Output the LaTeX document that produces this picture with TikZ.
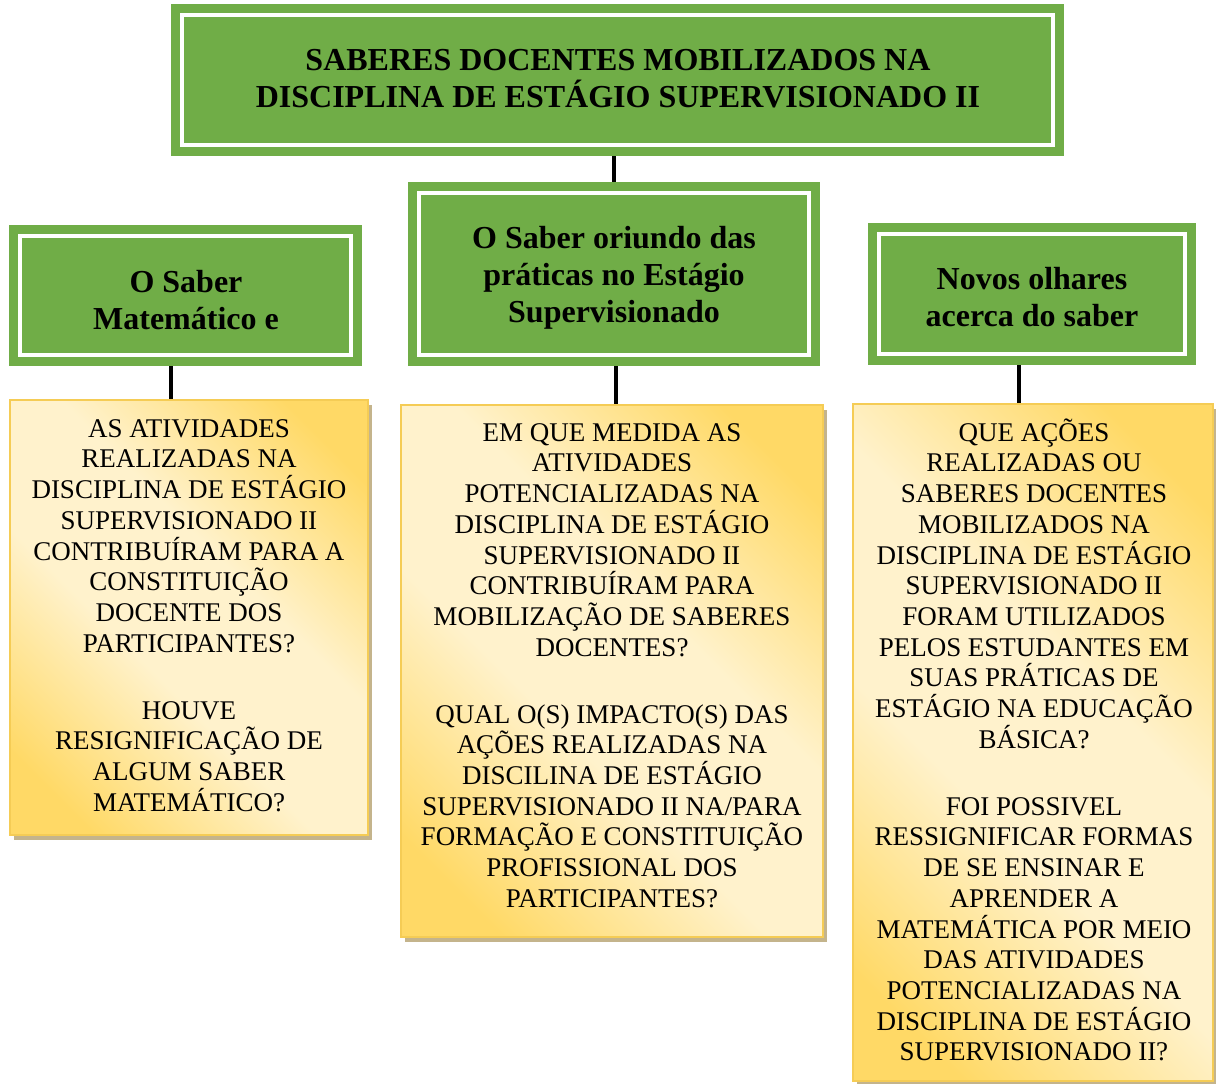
\documentclass[tikz,border=0pt]{standalone}
\usepackage{fontspec}
\setmainfont{Liberation Serif}
\definecolor{grn}{HTML}{70AD47}
\definecolor{gold}{HTML}{FFD966}
\definecolor{cream}{HTML}{FFF2CC}
\definecolor{goldline}{HTML}{F5CC55}
\definecolor{shad}{HTML}{C4B48C}
\pgfdeclareverticalshading{ygrad}{100bp}{color(0bp)=(gold); color(22bp)=(gold); color(42bp)=(cream); color(58bp)=(cream); color(78bp)=(gold); color(100bp)=(gold)}
\begin{document}
\begin{tikzpicture}[x=1pt,y=1pt,
 gbox/.style={rectangle, fill=grn, draw=none, inner sep=0pt},
 ybox/.style={rectangle, inner sep=0pt, draw=goldline, line width=1.2pt,
   shading=ygrad, shading angle=-45},
 shadowbox/.style={fill=shad, draw=none},
 inline/.style={draw=white, line width=4pt},
 link/.style={line width=3.5pt, draw=black},
 ttext/.style={font=\fontsize{32}{37}\selectfont\bfseries, align=center, inner sep=0pt},
 gtext/.style={font=\fontsize{32}{37}\selectfont\bfseries, align=center, inner sep=0pt},
 ytext/.style={font=\fontsize{27}{30.7}\selectfont, align=center, inner sep=0pt, anchor=north},
]
\useasboundingbox (0,-1084) rectangle (1216,0);
\fill[white] (0,-1084) rectangle (1216,0);

% green boxes
\node[gbox, minimum width=893pt, minimum height=152pt] (top) at (617.5,-80) {};
\node[gbox, minimum width=353pt, minimum height=141pt] (leftg) at (185.5,-295.5) {};
\node[gbox, minimum width=412pt, minimum height=184pt] (midg) at (614,-274) {};
\node[gbox, minimum width=328pt, minimum height=142pt] (rightg) at (1032,-294) {};
\foreach \b in {top,leftg,midg,rightg}{
  \draw[inline] ([shift={(11pt,-11pt)}]\b.north west) rectangle ([shift={(-11pt,11pt)}]\b.south east);
}

% green texts
\node[ttext] (ttl) at (618,-79) {SABERES DOCENTES MOBILIZADOS NA\\DISCIPLINA DE ESTÁGIO SUPERVISIONADO II};
\node[gtext] (lt) at (186,-300) {O Saber\\Matemático e};
\node[gtext] (mt) at (614,-278) {O Saber oriundo das\\práticas no Estágio\\Supervisionado};
\node[gtext] (rt) at (1032,-297.5) {Novos olhares\\acerca do saber};

% yellow shadows
\fill[shadowbox] (14,-405) rectangle (372,-840);
\fill[shadowbox] (405,-410) rectangle (827,-942);
\fill[shadowbox] (857,-409) rectangle (1217,-1086);

% yellow boxes
\node[ybox, minimum width=358pt, minimum height=435pt] (lefty) at (189,-617.5) {};
\node[ybox, minimum width=422pt, minimum height=532pt] (midy) at (612,-671) {};
\node[ybox, minimum width=360pt, minimum height=677pt] (righty) at (1033,-742.5) {};

% connectors
\draw[link] (midg.north) -- (midg.north |- top.south);
\draw[link] ([xshift=-14.5pt]leftg.south) -- ([xshift=-14.5pt]leftg.south |- lefty.north);
\draw[link] ([xshift=2pt]midg.south) -- ([xshift=2pt]midg.south |- midy.north);
\draw[link] ([xshift=-13pt]rightg.south) -- ([xshift=-13pt]rightg.south |- righty.north);

% yellow texts
\node[ytext] (lq) at (189,-412) {\rule{0pt}{25pt}AS ATIVIDADES\\REALIZADAS NA\\DISCIPLINA DE ESTÁGIO\\SUPERVISIONADO II\\CONTRIBUÍRAM PARA A\\CONSTITUIÇÃO\\DOCENTE DOS\\PARTICIPANTES?\\[36.3pt]HOUVE\\RESIGNIFICAÇÃO DE\\ALGUM SABER\\MATEMÁTICO?};
\node[ytext] (mq) at (612,-416) {\rule{0pt}{25pt}EM QUE MEDIDA AS\\ATIVIDADES\\POTENCIALIZADAS NA\\DISCIPLINA DE ESTÁGIO\\SUPERVISIONADO II\\CONTRIBUÍRAM PARA\\MOBILIZAÇÃO DE SABERES\\DOCENTES?\\[36.3pt]QUAL O(S) IMPACTO(S) DAS\\AÇÕES REALIZADAS NA\\DISCILINA DE ESTÁGIO\\SUPERVISIONADO II NA/PARA\\FORMAÇÃO E CONSTITUIÇÃO\\PROFISSIONAL DOS\\PARTICIPANTES?};
\node[ytext] (rq) at (1034,-416) {\rule{0pt}{25pt}QUE AÇÕES\\REALIZADAS OU\\SABERES DOCENTES\\MOBILIZADOS NA\\DISCIPLINA DE ESTÁGIO\\SUPERVISIONADO II\\FORAM UTILIZADOS\\PELOS ESTUDANTES EM\\SUAS PRÁTICAS DE\\ESTÁGIO NA EDUCAÇÃO\\BÁSICA?\\[36.3pt]FOI POSSIVEL\\RESSIGNIFICAR FORMAS\\DE SE ENSINAR E\\APRENDER A\\MATEMÁTICA POR MEIO\\DAS ATIVIDADES\\POTENCIALIZADAS NA\\DISCIPLINA DE ESTÁGIO\\SUPERVISIONADO II?};
\end{tikzpicture}
\end{document}
